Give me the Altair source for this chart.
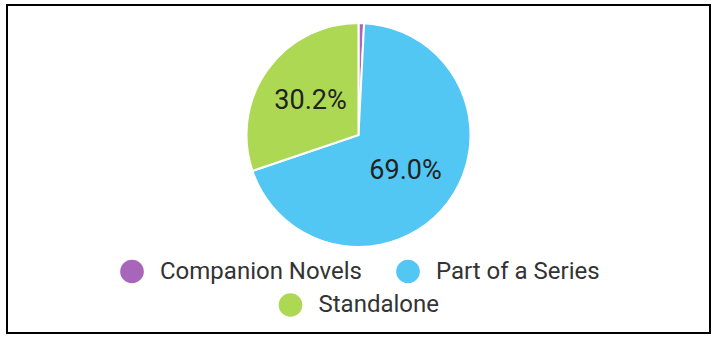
import altair as alt
import pandas as pd

categories = ["Companion Novels", "Part of a Series", "Standalone"]
shares = [0.8, 69.0, 30.2]
colors = ["#A866BB", "#53C7F4", "#ADD853"]

labels = [f"{v:.1f}%" if v >= 5 else "" for v in shares]
df = pd.DataFrame({"category": categories, "share": shares, "label": labels})

FONT = "Roboto"
Y_SHIFT = -34
W, H = 703, 328

def legend_for(values, lx, ly):
    return alt.Legend(
        values=values,
        orient="none",
        legendX=lx,
        legendY=ly,
        direction="horizontal",
        title=None,
        symbolType="circle",
        symbolSize=560,
        symbolStrokeWidth=0,
        symbolOpacity=1,
        labelFont=FONT,
        labelFontSize=24,
        labelColor="#333333",
        labelOffset=16,
        columnPadding=34,
        labelLimit=400,
    )

base = alt.Chart(df)

frame = alt.Chart(pd.DataFrame({"frame": [0]})).mark_rect(
    fill=None, stroke="black", strokeWidth=2
).encode(
    x=alt.value(0), x2=alt.value(W), y=alt.value(0), y2=alt.value(H)
)

arcs_a = base.mark_arc(outerRadius=112, stroke="white", strokeWidth=2, yOffset=Y_SHIFT).encode(
    theta=alt.Theta("share:Q", stack=True),
    color=alt.Color(
        "category:N",
        scale=alt.Scale(domain=categories, range=colors),
        sort=categories,
        legend=legend_for(categories[:2], 113, 254.5),
    ),
    order=alt.Order("category:N"),
)

arcs_b = base.mark_arc(outerRadius=112, stroke="white", strokeWidth=2, yOffset=Y_SHIFT).encode(
    theta=alt.Theta("share:Q", stack=True),
    color=alt.Color(
        "category:N",
        scale=alt.Scale(domain=categories, range=colors),
        sort=categories,
        legend=legend_for(categories[2:], 271.5, 288),
    ),
    order=alt.Order("category:N"),
)

text = base.mark_text(
    radius=59, font=FONT, fontSize=27, color="#222222", align="center", baseline="middle",
    yOffset=Y_SHIFT,
).encode(
    theta=alt.Theta("share:Q", stack=True),
    order=alt.Order("category:N"),
    text="label:N",
)

chart = (
    alt.layer(frame, arcs_a, arcs_b, text)
    .resolve_scale(color="independent")
    .resolve_legend(color="independent")
    .properties(
        width=W,
        height=H,
        autosize=alt.AutoSizeParams(type="none"),
        padding={"left": 7, "top": 5, "right": 3, "bottom": 7},
        background="white",
    )
    .configure_view(stroke=None)
)

chart.save("out.html", embed_options={"renderer": "svg", "actions": False})
